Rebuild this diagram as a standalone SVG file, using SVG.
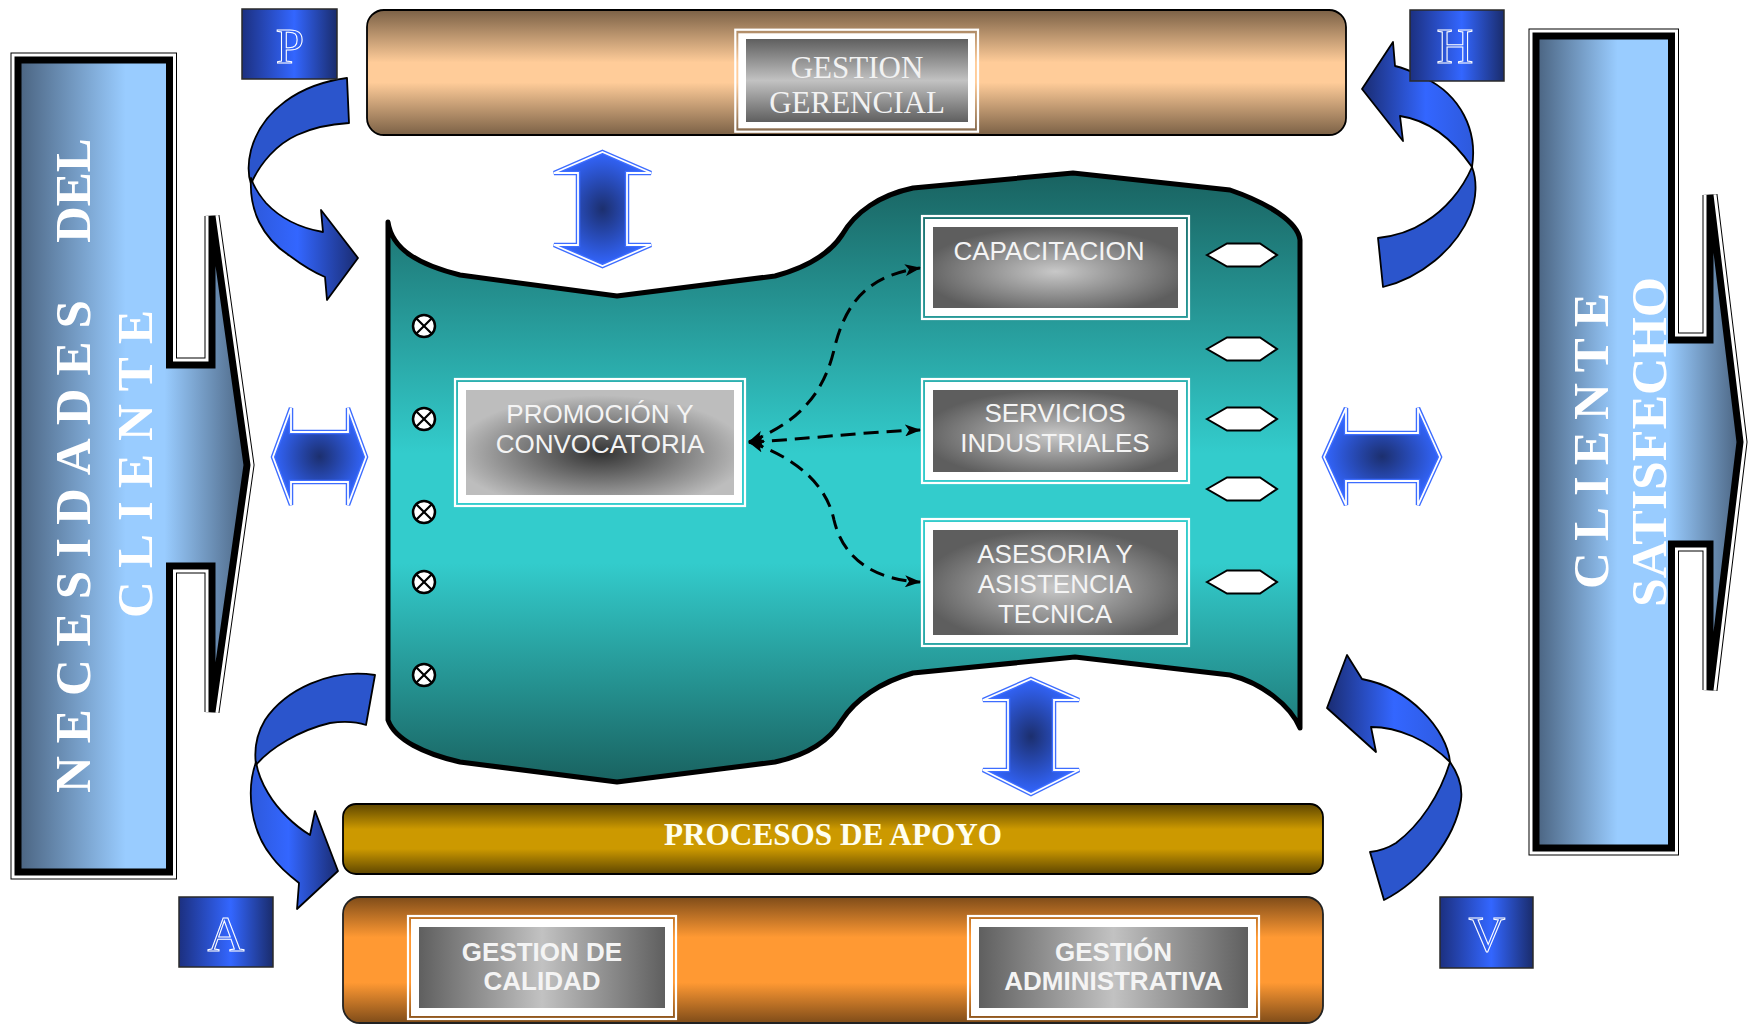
<svg xmlns="http://www.w3.org/2000/svg" width="1749" height="1024" viewBox="0 0 1749 1024">
<defs>
<style>
.serifB{font-family:"Liberation Serif","Times New Roman",serif;font-weight:bold;}
.serif{font-family:"Liberation Serif","Times New Roman",serif;}
.sans{font-family:"Liberation Sans",Arial,sans-serif;}
.big{font-size:51px;fill:#ffffff;}
.boxtxt{font-size:26px;fill:#f4f4f4;text-anchor:middle;}
.letter{font-size:51px;fill:none;stroke:#ffffff;stroke-width:1.05;text-anchor:middle;}
.frameLine{fill:none;stroke:#ffffff;stroke-width:2.2;}
.frameBand{fill:#ffffff;}
.hex{fill:#ffffff;stroke:#000;stroke-width:2;}
.dash{fill:none;stroke:#000;stroke-width:3;stroke-dasharray:15 8;}
.barrow{stroke:#3d6dff;stroke-width:4.5;fill:url(#gBlueR);}
.barrowIn{fill:none;stroke:#ffffff;stroke-width:1.8;}
.curveBack{fill:#2b55cc;stroke:#000;stroke-width:1.8;stroke-linejoin:round;}
.curveFront{stroke:#000;stroke-width:1.8;stroke-linejoin:round;}
.lbox{stroke:#2a2a2a;stroke-width:1.5;fill:url(#gLetter);}
.xc{fill:#ffffff;stroke:#000;stroke-width:2.5;}
.xl{stroke:#000;stroke-width:2.2;fill:none;}
</style>
<linearGradient id="gLeft" gradientUnits="userSpaceOnUse" x1="18" y1="0" x2="247" y2="0">
<stop offset="0" stop-color="#4a6380"/><stop offset="0.47" stop-color="#99ccff"/><stop offset="0.64" stop-color="#99ccff"/><stop offset="1" stop-color="#4a6380"/>
</linearGradient>
<linearGradient id="gRight" gradientUnits="userSpaceOnUse" x1="1536" y1="0" x2="1740" y2="0">
<stop offset="0" stop-color="#4a6380"/><stop offset="0.4" stop-color="#99ccff"/><stop offset="0.65" stop-color="#99ccff"/><stop offset="1" stop-color="#4a6380"/>
</linearGradient>
<linearGradient id="gTop" x1="0" y1="0" x2="0" y2="1">
<stop offset="0" stop-color="#7b6146"/><stop offset="0.42" stop-color="#ffcc99"/><stop offset="0.58" stop-color="#ffcc99"/><stop offset="1" stop-color="#7b6146"/>
</linearGradient>
<linearGradient id="gGold" x1="0" y1="0" x2="0" y2="1">
<stop offset="0" stop-color="#5e4600"/><stop offset="0.36" stop-color="#cc9900"/><stop offset="0.64" stop-color="#cc9900"/><stop offset="1" stop-color="#5e4600"/>
</linearGradient>
<linearGradient id="gOrange" x1="0" y1="0" x2="0" y2="1">
<stop offset="0" stop-color="#7f4c19"/><stop offset="0.32" stop-color="#ff9933"/><stop offset="0.68" stop-color="#ff9933"/><stop offset="1" stop-color="#7f4c19"/>
</linearGradient>
<linearGradient id="gTeal" gradientUnits="userSpaceOnUse" x1="0" y1="173" x2="0" y2="782">
<stop offset="0" stop-color="#196260"/><stop offset="0.46" stop-color="#33cccc"/><stop offset="0.64" stop-color="#33cccc"/><stop offset="1" stop-color="#196260"/>
</linearGradient>
<linearGradient id="gGreyV" x1="0" y1="0" x2="0" y2="1">
<stop offset="0" stop-color="#5f5f5f"/><stop offset="0.5" stop-color="#c2c2c2"/><stop offset="1" stop-color="#5f5f5f"/>
</linearGradient>
<linearGradient id="gGreyH" x1="0" y1="0" x2="1" y2="0">
<stop offset="0" stop-color="#5f5f5f"/><stop offset="0.5" stop-color="#c2c2c2"/><stop offset="1" stop-color="#5f5f5f"/>
</linearGradient>
<radialGradient id="gGreyR" cx="0.5" cy="0.55" r="0.55">
<stop offset="0" stop-color="#c8c8c8"/><stop offset="1" stop-color="#5e5e5e"/>
</radialGradient>
<radialGradient id="gGreyRInv" cx="0.5" cy="0.6" r="0.55">
<stop offset="0" stop-color="#333333"/><stop offset="1" stop-color="#bdbdbd"/>
</radialGradient>
<radialGradient id="gBlueR" cx="0.5" cy="0.5" r="0.5">
<stop offset="0" stop-color="#1c2f6e"/><stop offset="1" stop-color="#3366ff"/>
</radialGradient>
<linearGradient id="gLetter" x1="0" y1="0" x2="1" y2="0">
<stop offset="0" stop-color="#1c3080"/><stop offset="0.55" stop-color="#3366ff"/><stop offset="1" stop-color="#1a2c6c"/>
</linearGradient>
<linearGradient id="gP" gradientUnits="userSpaceOnUse" x1="248" y1="0" x2="358" y2="0">
<stop offset="0" stop-color="#2d58d8"/><stop offset="0.45" stop-color="#3366ff"/><stop offset="1" stop-color="#1a2c72"/>
</linearGradient>
<linearGradient id="gA" gradientUnits="userSpaceOnUse" x1="248" y1="0" x2="338" y2="0">
<stop offset="0" stop-color="#2d58d8"/><stop offset="0.45" stop-color="#3366ff"/><stop offset="1" stop-color="#1a2c72"/>
</linearGradient>
<linearGradient id="gH" gradientUnits="userSpaceOnUse" x1="1362" y1="0" x2="1478" y2="0">
<stop offset="0" stop-color="#1a2c72"/><stop offset="0.55" stop-color="#3366ff"/><stop offset="1" stop-color="#2d58d8"/>
</linearGradient>
<linearGradient id="gV" gradientUnits="userSpaceOnUse" x1="1327" y1="0" x2="1461" y2="0">
<stop offset="0" stop-color="#1a2c72"/><stop offset="0.5" stop-color="#3366ff"/><stop offset="1" stop-color="#2d58d8"/>
</linearGradient>
<path id="leftShape" d="M18,60 H169.5 V365 H212 V216 L247,465 L212,712 V566 H169.5 V872 H18 Z"/>
<path id="rightShape" d="M1536,36 H1671.5 V340 H1710 V195 L1740,442 L1710,690 V544 H1671.5 V848 H1536 Z"/>
<marker id="ah" viewBox="0 0 16 12" refX="15" refY="6" markerWidth="16" markerHeight="12" markerUnits="userSpaceOnUse" orient="auto-start-reverse">
<path d="M0,0 L16,6 L0,12 L4,6 Z" fill="#000"/>
</marker>
<g id="xcirc"><circle class="xc" cx="0" cy="0" r="11"/><path class="xl" d="M-7.8,-7.8 L7.8,7.8 M-7.8,7.8 L7.8,-7.8"/></g>
</defs>

<rect x="0" y="0" width="1749" height="1024" fill="#ffffff"/>

<g id="necesidades-del-cliente">
<use href="#leftShape" fill="none" stroke="#000" stroke-width="15"/>
<use href="#leftShape" fill="none" stroke="#fff" stroke-width="13"/>
<use href="#leftShape" fill="url(#gLeft)" stroke="none"/>
<use href="#leftShape" fill="none" stroke="#000" stroke-width="7"/>
<text class="serifB big" transform="translate(90,793) rotate(-90)" textLength="493" lengthAdjust="spacing">NECESIDADES</text>
<text class="serifB big" transform="translate(90,243) rotate(-90)">DEL</text>
<text class="serifB big" transform="translate(152,618) rotate(-90)" textLength="308" lengthAdjust="spacing">CLIENTE</text>
</g>

<g id="cliente-satisfecho">
<use href="#rightShape" fill="none" stroke="#000" stroke-width="15"/>
<use href="#rightShape" fill="none" stroke="#fff" stroke-width="13"/>
<use href="#rightShape" fill="url(#gRight)" stroke="none"/>
<use href="#rightShape" fill="none" stroke="#000" stroke-width="7"/>
<text class="serifB big" transform="translate(1608,589) rotate(-90)" textLength="296" lengthAdjust="spacing">CLIENTE</text>
<text class="serifB big" transform="translate(1666,607) rotate(-90)" textLength="330" lengthAdjust="spacingAndGlyphs">SATISFECHO</text>
</g>

<g id="gestion-gerencial">
<rect x="367" y="10" width="979" height="125" rx="17" fill="url(#gTop)" stroke="#000" stroke-width="1.8"/>
<rect class="frameLine" x="735.3" y="29.7" width="242.7" height="102" stroke-width="2.6"/>
<rect class="frameBand" x="738.3" y="33.3" width="236.7" height="95"/>
<rect x="746" y="39" width="222" height="83" fill="url(#gGreyV)"/>
<text class="serif" x="857" y="78" font-size="31" fill="#f2f2f2" text-anchor="middle">GESTION</text>
<text class="serif" x="857" y="113" font-size="31" fill="#f2f2f2" text-anchor="middle">GERENCIAL</text>
</g>

<g id="procesos-de-apoyo">
<rect x="343" y="804" width="980" height="70" rx="13" fill="url(#gGold)" stroke="#000" stroke-width="1.8"/>
<text class="serifB" x="833" y="845" font-size="32" fill="#fffff0" text-anchor="middle" textLength="338" lengthAdjust="spacingAndGlyphs">PROCESOS DE APOYO</text>
</g>

<g id="gestion-soporte">
<rect x="343" y="897" width="980" height="126" rx="17" fill="url(#gOrange)" stroke="#222" stroke-width="1.8"/>
<g id="gestion-de-calidad">
<rect class="frameLine" x="408" y="916" width="268" height="103"/>
<rect class="frameBand" x="411" y="919" width="262" height="97"/>
<rect x="419" y="927" width="246" height="81" fill="url(#gGreyH)"/>
<text class="sans boxtxt" x="542" y="961" font-weight="bold">GESTION DE</text>
<text class="sans boxtxt" x="542" y="990" font-weight="bold">CALIDAD</text>
</g>
<g id="gestion-administrativa">
<rect class="frameLine" x="968" y="916" width="291" height="103"/>
<rect class="frameBand" x="971" y="919" width="285" height="97"/>
<rect x="979" y="927" width="269" height="81" fill="url(#gGreyH)"/>
<text class="sans boxtxt" x="1113.5" y="961" font-weight="bold">GESTIÓN</text>
<text class="sans boxtxt" x="1113.5" y="990" font-weight="bold">ADMINISTRATIVA</text>
</g>
</g>

<g id="procesos-misionales">
<path d="M388,222 C392,250 420,265 460,275 L617,296 L775,276 C812,266 832,250 842,235 C855,212 880,195 913,188 L1073,173 L1230,190 C1268,203 1298,222 1300,240 L1300,728 C1290,705 1262,683 1230,675 L1075,657 L913,673 C880,682 855,700 842,720 C830,740 808,755 775,762 L617,782 L460,762 C425,754 395,740 388,720 Z" fill="url(#gTeal)" stroke="#000" stroke-width="5" stroke-linejoin="round"/>
<use href="#xcirc" x="424" y="326"/>
<use href="#xcirc" x="424" y="419"/>
<use href="#xcirc" x="424" y="512"/>
<use href="#xcirc" x="424" y="582"/>
<use href="#xcirc" x="424" y="675"/>
<polygon class="hex" points="1207,255 1227,243.5 1260,243.5 1277,255 1260,266.5 1227,266.5"/>
<polygon class="hex" points="1207,349 1227,337.5 1260,337.5 1277,349 1260,360.5 1227,360.5"/>
<polygon class="hex" points="1207,419 1227,407.5 1260,407.5 1277,419 1260,430.5 1227,430.5"/>
<polygon class="hex" points="1207,489 1227,477.5 1260,477.5 1277,489 1260,500.5 1227,500.5"/>
<polygon class="hex" points="1207,582 1227,570.5 1260,570.5 1277,582 1260,593.5 1227,593.5"/>
</g>

<g id="promocion-y-convocatoria">
<rect class="frameLine" x="455" y="379" width="290" height="127"/>
<rect class="frameBand" x="458" y="382" width="284" height="121"/>
<rect x="466" y="390" width="268" height="105" fill="url(#gGreyRInv)"/>
<text class="sans boxtxt" x="600" y="423" fill="#eeeeee">PROMOCIÓN Y</text>
<text class="sans boxtxt" x="600" y="453" fill="#eeeeee">CONVOCATORIA</text>
</g>

<g id="capacitacion">
<rect class="frameLine" x="922" y="216" width="267" height="103"/>
<rect class="frameBand" x="925" y="219" width="261" height="97"/>
<rect x="933" y="227" width="245" height="81" fill="url(#gGreyR)"/>
<text class="sans boxtxt" x="1049" y="260">CAPACITACION</text>
</g>

<g id="servicios-industriales">
<rect class="frameLine" x="922" y="379" width="267" height="104"/>
<rect class="frameBand" x="925" y="382" width="261" height="98"/>
<rect x="933" y="390" width="245" height="82" fill="url(#gGreyR)"/>
<text class="sans boxtxt" x="1055" y="422">SERVICIOS</text>
<text class="sans boxtxt" x="1055" y="452">INDUSTRIALES</text>
</g>

<g id="asesoria-y-asistencia-tecnica">
<rect class="frameLine" x="922" y="519" width="267" height="127"/>
<rect class="frameBand" x="925" y="522" width="261" height="121"/>
<rect x="933" y="530" width="245" height="105" fill="url(#gGreyR)"/>
<text class="sans boxtxt" x="1055" y="563">ASESORIA Y</text>
<text class="sans boxtxt" x="1055" y="593">ASISTENCIA</text>
<text class="sans boxtxt" x="1055" y="623">TECNICA</text>
</g>

<g id="connectors">
<g id="dashed-links">
<path class="dash" d="M749,442 C792,425 822,400 834,350 C846,298 872,275 920,268" marker-start="url(#ah)" marker-end="url(#ah)"/>
<path class="dash" d="M749,442 C800,440 860,432 920,430" marker-start="url(#ah)" marker-end="url(#ah)"/>
<path class="dash" d="M749,442 C792,456 826,482 834,520 C844,562 878,580 920,582" marker-start="url(#ah)" marker-end="url(#ah)"/>
</g>
<g id="double-arrows">
<polygon class="barrow" points="602.5,152 651,173 627,173 627,245 651,245 602.5,266 554,245 578,245 578,173 554,173"/>
<polygon class="barrowIn" points="602.5,152 651,173 627,173 627,245 651,245 602.5,266 554,245 578,245 578,173 554,173"/>
<polygon class="barrow" points="1031,679 1079,700 1054,700 1054,770 1079,770 1031,794 983,770 1008,770 1008,700 983,700"/>
<polygon class="barrowIn" points="1031,679 1079,700 1054,700 1054,770 1079,770 1031,794 983,770 1008,770 1008,700 983,700"/>
<polygon class="barrow" points="273,457 291,408 291,432 348,432 348,408 366,457 348,505 348,482 291,482 291,505"/>
<polygon class="barrowIn" points="273,457 291,408 291,432 348,432 348,408 366,457 348,505 348,482 291,482 291,505"/>
<polygon class="barrow" points="1324,457 1346,408 1346,433 1418,433 1418,408 1440,457 1418,505 1418,481 1346,481 1346,505"/>
<polygon class="barrowIn" points="1324,457 1346,408 1346,433 1418,433 1418,408 1440,457 1418,505 1418,481 1346,481 1346,505"/>
</g>
<g id="curved-arrows">
<path class="curveBack" d="M347,78 C300,84 262,110 251,150 C248,162 248,175 251,184 C260,163 277,144 297,135 C314,127 332,124 349,123 Z"/>
<path class="curveFront" fill="url(#gP)" d="M251,178 C249,210 262,238 290,256 C302,265 313,272 325,277 L327,300 L358,258 L321,210 L323,232 C300,228 280,218 266,203 C259,195 254,187 251,178 Z"/>
<path class="curveBack" d="M1378,238 L1383,287 C1420,278 1455,250 1470,215 C1477,198 1477,180 1472,167 C1462,190 1445,210 1425,222 C1410,232 1395,236 1378,238 Z"/>
<path class="curveFront" fill="url(#gH)" d="M1472,167 C1478,130 1460,95 1425,78 C1415,73 1405,68 1395,66 L1393,42 L1362,89 L1403,141 L1400,116 C1427,120 1452,138 1472,167 Z"/>
<path class="curveBack" d="M375,675 C330,668 285,690 265,720 C256,735 254,750 256,765 C270,748 300,730 330,723 C345,721 357,722 366,725 Z"/>
<path class="curveFront" fill="url(#gA)" d="M256,762 C246,790 250,830 272,857 C280,868 290,876 299,883 L297,909 L338,871 L315,811 L310,835 C295,826 278,810 268,793 C262,783 258,774 256,762 Z"/>
<path class="curveBack" d="M1370,852 L1384,900 C1420,882 1455,840 1461,800 C1463,785 1457,772 1450,762 C1440,795 1420,825 1396,843 C1388,848 1379,851 1370,852 Z"/>
<path class="curveFront" fill="url(#gV)" d="M1450,762 C1447,730 1410,688 1362,679 L1347,655 L1327,708 L1376,752 L1371,727 C1398,727 1428,740 1450,762 Z"/>
</g>
</g>

<g id="label-P">
<rect class="lbox" x="242" y="9" width="95" height="70"/>
<text class="serif letter" x="290" y="63">P</text>
</g>
<g id="label-H">
<rect class="lbox" x="1410" y="10" width="94" height="71"/>
<text class="serif letter" x="1455" y="63">H</text>
</g>
<g id="label-A">
<rect class="lbox" x="179" y="897" width="94" height="70"/>
<text class="serif letter" x="226" y="951">A</text>
</g>
<g id="label-V">
<rect class="lbox" x="1440" y="897" width="93" height="71"/>
<text class="serif letter" x="1487" y="951">V</text>
</g>
</svg>
